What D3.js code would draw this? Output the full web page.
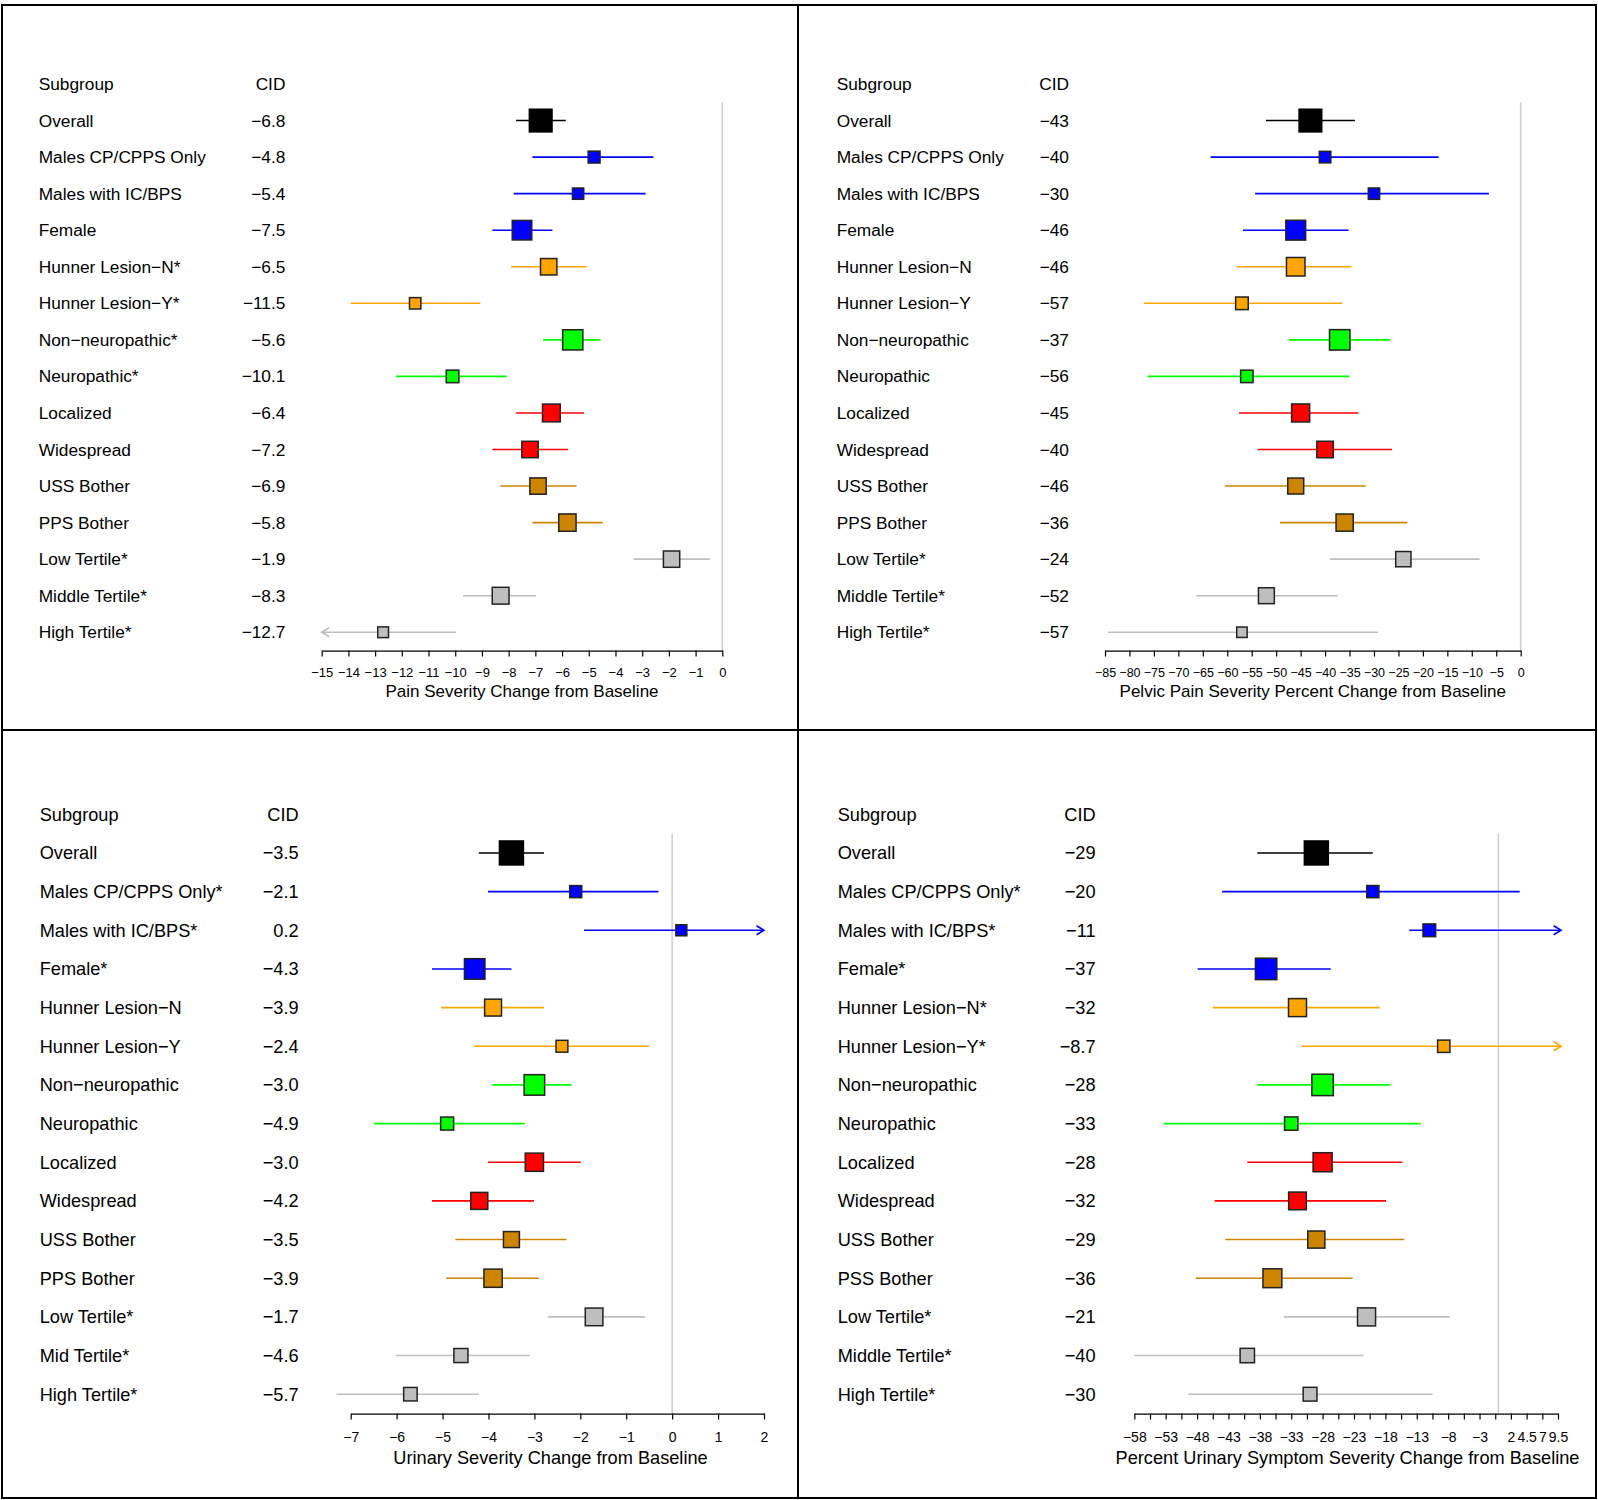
<!DOCTYPE html>
<html>
<head>
<meta charset="utf-8">
<script src="https://cdn.jsdelivr.net/npm/d3@7"></script>
<style>
  body { margin: 0; background: #ffffff; }
  text { font-family: "Liberation Sans", Arial, Helvetica, sans-serif; fill: #000; }
</style>
</head>
<body>
<svg id="chart" width="1598" height="1500"></svg>
<script>
// ---------------- DATA ----------------
const rowGroups = ["overall","sex","sex","sex","hunner","hunner","neuro","neuro","extent","extent","bother","bother","tertile","tertile","tertile"];

// Panel A: Pain severity change
const painLabels = ["Overall","Males CP/CPPS Only","Males with IC/BPS","Female","Hunner Lesion\u2212N*","Hunner Lesion\u2212Y*","Non\u2212neuropathic*","Neuropathic*","Localized","Widespread","USS Bother","PPS Bother","Low Tertile*","Middle Tertile*","High Tertile*"];
const painEst   = [-6.8, -4.8, -5.4, -7.5, -6.5, -11.5, -5.6, -10.1, -6.4, -7.2, -6.9, -5.8, -1.9, -8.3, -12.7];
const painLower = [-7.72, -7.11, -7.81, -8.61, -7.91, -13.92, -6.71, -12.22, -7.72, -8.61, -8.31, -7.11, -3.32, -9.71, -15.3];
const painUpper = [-5.86, -2.58, -2.87, -6.36, -5.08, -9.06, -4.56, -8.07, -5.18, -5.78, -5.46, -4.48, -0.47, -6.97, -9.97];
const painTicks = [-15,-14,-13,-12,-11,-10,-9,-8,-7,-6,-5,-4,-3,-2,-1,0];
const painTickLabels = [-15,-14,-13,-12,-11,-10,-9,-8,-7,-6,-5,-4,-3,-2,-1,0];
const painAxisTitle = "Pain Severity Change from Baseline";

// Panel B: Pelvic pain severity percent change
const pelvicLabels = ["Overall","Males CP/CPPS Only","Males with IC/BPS","Female","Hunner Lesion\u2212N","Hunner Lesion\u2212Y","Non\u2212neuropathic","Neuropathic","Localized","Widespread","USS Bother","PPS Bother","Low Tertile*","Middle Tertile*","High Tertile*"];
const pelvicEst   = [-43, -40, -30, -46, -46, -57, -37, -56, -45, -40, -46, -36, -24, -52, -57];
const pelvicLower = [-52.1, -63.4, -54.3, -56.8, -58.1, -77.0, -47.4, -76.3, -57.6, -53.8, -60.5, -49.2, -39.0, -66.3, -84.4];
const pelvicUpper = [-33.9, -16.8, -6.5, -35.2, -34.6, -36.5, -26.7, -35.0, -33.2, -26.3, -31.7, -23.2, -8.4, -37.4, -29.2];
const pelvicTicks = [-85,-80,-75,-70,-65,-60,-55,-50,-45,-40,-35,-30,-25,-20,-15,-10,-5,0];
const pelvicTickLabels = [-85,-80,-75,-70,-65,-60,-55,-50,-45,-40,-35,-30,-25,-20,-15,-10,-5,0];
const pelvicAxisTitle = "Pelvic Pain Severity Percent Change from Baseline";

// Panel C: Urinary severity change
const urinaryLabels = ["Overall","Males CP/CPPS Only*","Males with IC/BPS*","Female*","Hunner Lesion\u2212N","Hunner Lesion\u2212Y","Non\u2212neuropathic","Neuropathic","Localized","Widespread","USS Bother","PPS Bother","Low Tertile*","Mid Tertile*","High Tertile*"];
const urinaryEst   = [-3.5, -2.1, 0.2, -4.3, -3.9, -2.4, -3.0, -4.9, -3.0, -4.2, -3.5, -3.9, -1.7, -4.6, -5.7];
const urinaryLower = [-4.21, -4.01, -1.92, -5.23, -5.03, -4.32, -3.92, -6.49, -4.01, -5.23, -4.72, -4.92, -2.70, -6.02, -7.31];
const urinaryUpper = [-2.79, -0.30, 2.4, -3.50, -2.79, -0.50, -2.19, -3.21, -1.99, -3.01, -2.30, -2.90, -0.59, -3.10, -4.21];
const urinaryTicks = [-7,-6,-5,-4,-3,-2,-1,0,1,2];
const urinaryTickLabels = [-7,-6,-5,-4,-3,-2,-1,0,1,2];
const urinaryAxisTitle = "Urinary Severity Change from Baseline";

// Panel D: Percent urinary symptom severity change
const urinaryPctLabels = ["Overall","Males CP/CPPS Only*","Males with IC/BPS*","Female*","Hunner Lesion\u2212N*","Hunner Lesion\u2212Y*","Non\u2212neuropathic","Neuropathic","Localized","Widespread","USS Bother","PSS Bother","Low Tertile*","Middle Tertile*","High Tertile*"];
const urinaryPctEst   = [-29, -20, -11, -37, -32, -8.7, -28, -33, -28, -32, -29, -36, -21, -40, -30];
const urinaryPctLower = [-38.4, -44.0, -14.2, -47.9, -45.5, -31.4, -38.4, -53.3, -40.0, -45.2, -43.5, -48.2, -34.2, -58.0, -49.4];
const urinaryPctUpper = [-20.0, 3.4, 30, -26.7, -18.9, 15, -17.2, -12.4, -15.3, -17.9, -15.0, -23.2, -7.7, -21.5, -10.5];
const urinaryPctTicks = [-58,-55.5,-53,-50.5,-48,-45.5,-43,-40.5,-38,-35.5,-33,-30.5,-28,-25.5,-23,-20.5,-18,-15.5,-13,-10.5,-8,-5.5,-3,-0.5,2,4.5,7,9.5];
const urinaryPctTickLabels = [-58,-53,-48,-43,-38,-33,-28,-23,-18,-13,-8,-3,2,4.5,7,9.5];
const urinaryPctAxisTitle = "Percent Urinary Symptom Severity Change from Baseline";

// ---------------- STYLE / LAYOUT ----------------
const groupColor = {overall:"#000000", sex:"#0000FF", hunner:"#FFA500", neuro:"#00FF00", extent:"#FF0000", bother:"#CD8500", tertile:"#BEBEBE"};

const panels = [
  {labels: painLabels, est: painEst, lo: painLower, hi: painUpper, ticks: painTicks, tickLabels: painTickLabels,
   title: painAxisTitle, cidFmt: d3.format(".1f"), clip: [-15, 0],
   L: {labelX: 38.7, cidX: 285.4, headerY: 84, rowH: 36.55, xRange: [321.7, 722.3], font: 17.3, tickFont: 13, tickPad: 11.5, titleFont: 17, titleX: 522, titleY: 691}},
  {labels: pelvicLabels, est: pelvicEst, lo: pelvicLower, hi: pelvicUpper, ticks: pelvicTicks, tickLabels: pelvicTickLabels,
   title: pelvicAxisTitle, cidFmt: d3.format(".0f"), clip: [-85, 0],
   L: {labelX: 836.7, cidX: 1069, headerY: 84, rowH: 36.55, xRange: [1105, 1520.7], font: 17.3, tickFont: 12.5, tickPad: 11.5, titleFont: 17, titleX: 1312.8, titleY: 691}},
  {labels: urinaryLabels, est: urinaryEst, lo: urinaryLower, hi: urinaryUpper, ticks: urinaryTicks, tickLabels: urinaryTickLabels,
   title: urinaryAxisTitle, cidFmt: d3.format(".1f"), clip: [-8, 2],
   L: {labelX: 39.7, cidX: 298.6, headerY: 814.3, rowH: 38.66, xRange: [350.7, 764], font: 18.2, tickFont: 14, tickPad: 12.5, titleFont: 18.2, titleX: 550.5, titleY: 1457.5}},
  {labels: urinaryPctLabels, est: urinaryPctEst, lo: urinaryPctLower, hi: urinaryPctUpper, ticks: urinaryPctTicks, tickLabels: urinaryPctTickLabels,
   title: urinaryPctAxisTitle, cidFmt: d3.format(".2r"), clip: [-58.5, 10],
   L: {labelX: 837.7, cidX: 1095.6, headerY: 814.3, rowH: 38.66, xRange: [1134.3, 1558], font: 18.2, tickFont: 14, tickPad: 12.5, titleFont: 18.2, titleX: 1347.5, titleY: 1457.5}}
];

const svg = d3.select("#chart");
svg.append("rect").attr("width", 1598).attr("height", 1500).attr("fill", "#fff");

// frame
const frame = svg.append("g").attr("fill", "none").attr("stroke", "#000").attr("stroke-width", 2);
frame.append("rect").attr("x", 2).attr("y", 5).attr("width", 1594).attr("height", 1493);
frame.append("line").attr("x1", 798).attr("x2", 798).attr("y1", 5).attr("y2", 1498);
frame.append("line").attr("x1", 2).attr("x2", 1596).attr("y1", 730).attr("y2", 730);

panels.forEach(p => {
  const L = p.L;
  const n = p.labels.length;
  const g = svg.append("g");
  const x = d3.scaleLinear().domain([p.ticks[0], p.ticks[p.ticks.length - 1]]).range(L.xRange);
  const y = d3.scaleLinear().domain([0, n]).range([L.headerY, L.headerY + n * L.rowH]);
  const axisY = y(n) + L.rowH / 2;

  // header
  g.append("text").attr("x", L.labelX).attr("y", y(0)).attr("dy", "0.35em")
    .attr("font-size", L.font).text("Subgroup");
  g.append("text").attr("x", L.cidX).attr("y", y(0)).attr("dy", "0.35em")
    .attr("text-anchor", "end").attr("font-size", L.font).text("CID");

  // row labels and CID values
  p.labels.forEach((lab, i) => {
    g.append("text").attr("x", L.labelX).attr("y", y(i + 1)).attr("dy", "0.35em")
      .attr("font-size", L.font).text(lab);
    g.append("text").attr("x", L.cidX).attr("y", y(i + 1)).attr("dy", "0.35em")
      .attr("text-anchor", "end").attr("font-size", L.font).text(p.cidFmt(p.est[i]));
  });

  // reference line at zero
  g.append("line").attr("x1", x(0)).attr("x2", x(0))
    .attr("y1", y(1) - L.rowH / 2).attr("y2", axisY)
    .attr("stroke", "#d0d0d0").attr("stroke-width", 1.6);

  // axis
  const labelSet = new Set(p.tickLabels);
  const fmt = d3.format("~g");
  const axis = d3.axisBottom(x).tickValues(p.ticks).tickSize(6).tickSizeOuter(0)
    .tickPadding(L.tickPad).tickFormat(d => labelSet.has(d) ? fmt(d) : "");
  const ag = g.append("g").attr("transform", `translate(0,${axisY})`).call(axis);
  ag.attr("font-family", null).attr("font-size", null);
  ag.select(".domain").attr("stroke", "#000").attr("stroke-width", 1.2);
  ag.selectAll(".tick line").attr("stroke", "#000").attr("stroke-width", 1.2);
  ag.selectAll(".tick text").attr("font-size", L.tickFont).attr("fill", "#000");

  g.append("text").attr("x", L.titleX).attr("y", L.titleY).attr("dy", "0.35em")
    .attr("text-anchor", "middle").attr("font-size", L.titleFont).text(p.title);

  // box size from CI width (information weighting)
  const widths = p.lo.map((lo, i) => p.hi[i] - lo);
  const wMin = d3.min(widths);

  p.est.forEach((e, i) => {
    const col = groupColor[rowGroups[i]];
    const cy = y(i + 1);
    const lo = Math.max(p.lo[i], p.clip[0]);
    const hi = Math.min(p.hi[i], p.clip[1]);
    g.append("line").attr("x1", x(lo)).attr("x2", x(hi)).attr("y1", cy).attr("y2", cy)
      .attr("stroke", col).attr("stroke-width", 1.6);
    const ah = 4.5, al = 7.5;
    if (p.lo[i] < p.clip[0]) {
      const tx = x(p.clip[0]);
      g.append("path").attr("d", `M${tx + al},${cy - ah}L${tx},${cy}L${tx + al},${cy + ah}`)
        .attr("fill", "none").attr("stroke", col).attr("stroke-width", 1.6);
    }
    if (p.hi[i] > p.clip[1]) {
      const tx = x(p.clip[1]);
      g.append("path").attr("d", `M${tx - al},${cy - ah}L${tx},${cy}L${tx - al},${cy + ah}`)
        .attr("fill", "none").attr("stroke", col).attr("stroke-width", 1.6);
    }
    const s = L.rowH * (0.12 + 0.5 * wMin / widths[i]);
    g.append("rect").attr("x", x(e) - s / 2).attr("y", cy - s / 2).attr("width", s).attr("height", s)
      .attr("fill", col).attr("stroke", i === 0 ? "#000" : "#222").attr("stroke-width", 1.5);
  });
});
</script>
</body>
</html>
